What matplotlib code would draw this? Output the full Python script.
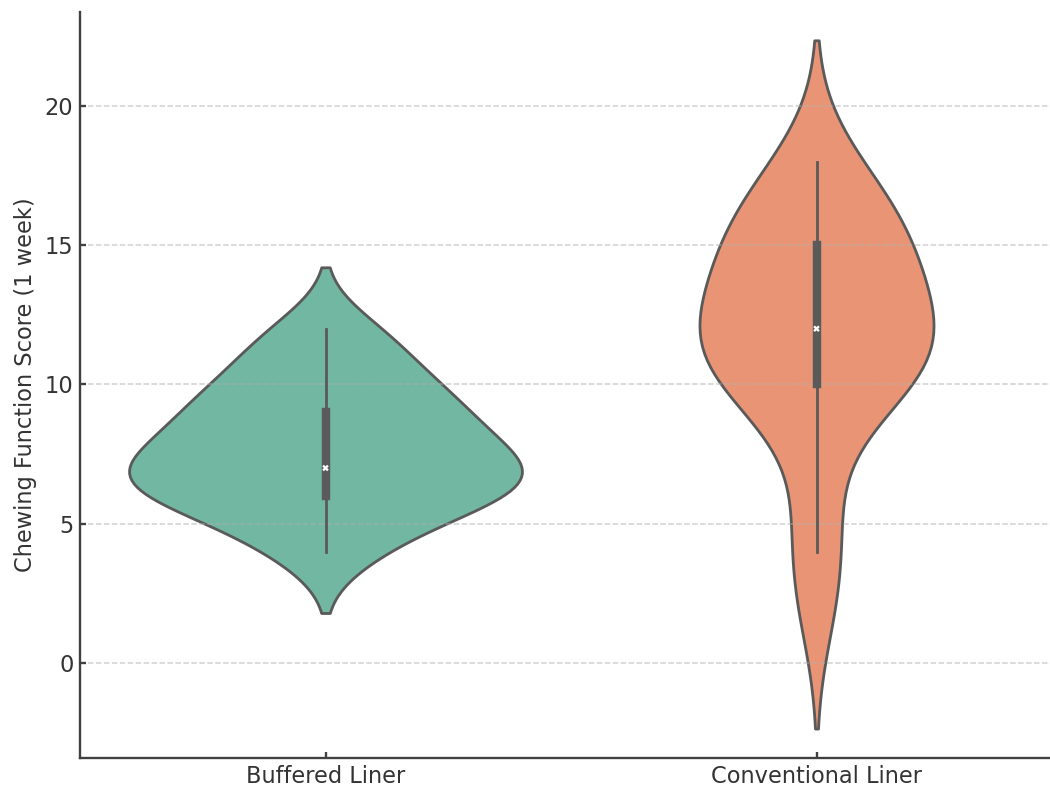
import numpy as np
import matplotlib.pyplot as plt

# chewing function scores after one week, per liner type
groups = ["Buffered Liner", "Conventional Liner"]
buffered = [4, 4, 5, 5, 6, 6, 6, 6, 6, 6, 7, 7, 7, 7, 7, 7,
            8, 8, 8, 8, 9, 9, 9, 9, 10, 10, 10, 11, 11, 12, 12]
conventional = [2, 4, 6, 10, 10, 10, 10, 11, 11, 12, 12, 12, 12,
                13, 14, 15, 15, 15, 16, 16, 17, 18]
colors = ["#71b7a1", "#e99575"]
gray = "#5a5a5a"


def kde(x, cut=2, gridsize=100):
    x = np.asarray(x, dtype=float)
    n = len(x)
    bw = n ** (-1 / 5) * x.std(ddof=1)
    support = np.linspace(x.min() - cut * bw, x.max() + cut * bw, gridsize)
    z = (support[:, None] - x[None, :]) / bw
    dens = np.exp(-0.5 * z ** 2).sum(1) / (n * bw * np.sqrt(2 * np.pi))
    return support, dens


plt.rcParams['font.family'] = ['DejaVu Sans']
fig = plt.figure(figsize=(1050 / 135, 787 / 135), dpi=135)
ax = fig.add_axes([80 / 1050, 29 / 787, 982 / 1050, 746 / 787])

data = [buffered, conventional]
curves = [kde(d) for d in data]
peak = max(d.max() for _, d in curves)

for i, (vals, (s, d)) in enumerate(zip(data, curves)):
    half = 0.4 * d / peak
    ax.fill_betweenx(s, i - half, i + half, facecolor=colors[i],
                     edgecolor=gray, linewidth=1.5, zorder=1)

    # inner box: whiskers to 1.5 IQR, thick quartile bar, white median
    vals = np.asarray(vals, dtype=float)
    q25, q50, q75 = np.percentile(vals, [25, 50, 75])
    lim = 1.5 * (q75 - q25)
    lo = vals[vals >= q25 - lim].min()
    hi = vals[vals <= q75 + lim].max()
    ax.plot([i, i], [lo, hi], color=gray, linewidth=1.5, zorder=2)
    ax.plot([i, i], [q25, q75], color=gray, linewidth=4.5, zorder=2)
    ax.scatter(i, q50, s=12, marker="X", color="white", edgecolor="none",
               zorder=3)

ax.set_xlim(-0.5, 1.5)
ax.set_ylim(-3.41, 23.37)
ax.set_xticks([0, 1])
ax.set_xticklabels(groups)
ax.set_yticks([0, 5, 10, 15, 20])
ax.set_ylabel("Chewing Function Score (1 week)", fontsize=12, color="#333333")
ax.tick_params(direction="in", length=3, width=1.25, color="#404040",
               labelsize=12, labelcolor="#333333")

ax.yaxis.grid(True, linestyle="--", color="#b0b0b0", alpha=0.6, linewidth=0.8)
ax.set_axisbelow("line")

for side in ["top", "right"]:
    ax.spines[side].set_visible(False)
for side in ["left", "bottom"]:
    ax.spines[side].set_color("#404040")
    ax.spines[side].set_linewidth(1.25)

fig.savefig("out.png", dpi=135)
